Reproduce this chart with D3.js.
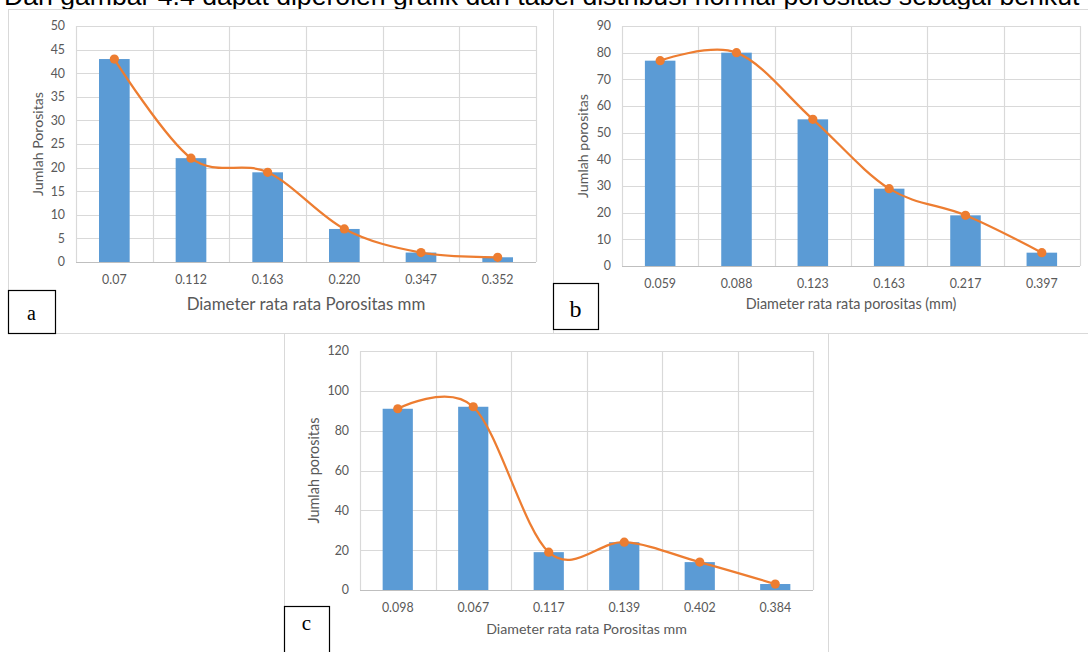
<!DOCTYPE html>
<html><head><meta charset="utf-8">
<script src="https://cdn.jsdelivr.net/npm/d3@7"></script>
<style>html,body{margin:0;padding:0;background:#fff;overflow:hidden}</style>
</head><body>
<svg id="chart" width="1088" height="652"></svg>
<script>
// ---------- data ----------
const catsA = ["0.07", "0.112", "0.163", "0.220", "0.347", "0.352"];
const valsA = [43, 22, 19, 7, 2, 1];
const ticksA = [0, 5, 10, 15, 20, 25, 30, 35, 40, 45, 50];

const catsB = ["0.059", "0.088", "0.123", "0.163", "0.217", "0.397"];
const valsB = [77, 80, 55, 29, 19, 5];
const ticksB = [0, 10, 20, 30, 40, 50, 60, 70, 80, 90];

const catsC = ["0.098", "0.067", "0.117", "0.139", "0.402", "0.384"];
const valsC = [91, 92, 19, 24, 14, 3];
const ticksC = [0, 20, 40, 60, 80, 100, 120];

const xTitleA = "Diameter rata rata Porositas mm";
const yTitleA = "Jumlah Porositas";
const xTitleB = "Diameter rata rata porositas (mm)";
const yTitleB = "Jumlah porositas";
const xTitleC = "Diameter rata rata Porositas mm";
const yTitleC = "Jumlah porositas";
const headline = "Dari gambar 4.4 dapat diperoleh grafik dan tabel distribusi normal porositas sebagai berikut";

// ---------- layout / style ----------
const BAR = "#5B9BD5", LINE = "#ED7D31", GRID = "#D9D9D9", AXIS = "#BFBFBF", TXT = "#595959";
const FONT = "Lato, 'Open Sans', sans-serif";
const TICK_FS = 12.4;
const svg = d3.select("#chart");

function fit(sel, target) {
  const w = sel.node().getComputedTextLength();
  const fs = parseFloat(sel.attr("font-size"));
  sel.attr("font-size", fs * target / w);
}

// headline (cut at top of the picture, as in the source)
const hl = svg.append("text").attr("x", 4).attr("y", 5)
  .attr("font-family", "'Liberation Sans', Arial, sans-serif").attr("font-size", 20)
  .attr("fill", "#000").text(headline);
fit(hl, 1076);

function panel(cfg) {
  const g = svg.append("g");
  // frame
  g.append("rect").attr("x", cfg.frame[0] + 0.5).attr("y", cfg.frame[1] + 0.5)
    .attr("width", cfg.frame[2]).attr("height", cfg.frame[3])
    .attr("fill", "none").attr("stroke", GRID).attr("stroke-width", 1);

  const x = d3.scaleBand().domain(cfg.cats).range([cfg.left, cfg.right])
    .paddingInner(0.6).paddingOuter(0.3);
  const y = d3.scaleLinear().domain([0, cfg.ticks[cfg.ticks.length - 1]]).range([cfg.bottom, cfg.top]);
  const step = x.step();

  // horizontal gridlines
  g.append("g").selectAll("line").data(cfg.ticks.slice(1)).join("line")
    .attr("x1", cfg.left).attr("x2", cfg.right)
    .attr("y1", d => Math.round(y(d)) + 0.5).attr("y2", d => Math.round(y(d)) + 0.5)
    .attr("stroke", GRID).attr("stroke-width", 1.2);
  // vertical gridlines at category boundaries
  const bounds = d3.range(cfg.cats.length + 1).map(i => cfg.left + i * step);
  g.append("g").selectAll("line").data(bounds).join("line")
    .attr("x1", d => Math.round(d) + 0.5).attr("x2", d => Math.round(d) + 0.5)
    .attr("y1", cfg.top).attr("y2", cfg.bottom)
    .attr("stroke", GRID).attr("stroke-width", 1.2);

  // bars
  g.append("g").selectAll("rect").data(cfg.vals).join("rect")
    .attr("x", (d, i) => x(cfg.cats[i])).attr("width", x.bandwidth())
    .attr("y", d => y(d)).attr("height", d => y(0) - y(d))
    .attr("fill", BAR);

  // x axis line
  g.append("line").attr("x1", cfg.left).attr("x2", cfg.right)
    .attr("y1", Math.round(y(0)) + 0.5).attr("y2", Math.round(y(0)) + 0.5)
    .attr("stroke", AXIS).attr("stroke-width", 1.2);

  // smoothed line
  const pts = cfg.vals.map((d, i) => [x(cfg.cats[i]) + x.bandwidth() / 2, y(d)]);
  g.append("path").attr("d", d3.line().curve(d3.curveCatmullRom.alpha(0))(pts))
    .attr("fill", "none").attr("stroke", LINE).attr("stroke-width", 2.25);
  g.append("g").selectAll("circle").data(pts).join("circle")
    .attr("cx", d => d[0]).attr("cy", d => d[1]).attr("r", 4.6).attr("fill", LINE);

  // tick labels
  g.append("g").selectAll("text").data(cfg.ticks).join("text")
    .attr("x", cfg.left - 11).attr("y", d => y(d)).attr("dy", "0.35em")
    .attr("text-anchor", "end").attr("font-family", FONT).attr("font-size", TICK_FS)
    .attr("fill", TXT).text(d => d);
  g.append("g").selectAll("text").data(cfg.cats).join("text")
    .attr("x", d => x(d) + x.bandwidth() / 2).attr("y", cfg.bottom + 22)
    .attr("text-anchor", "middle").attr("font-family", FONT).attr("font-size", TICK_FS)
    .attr("fill", TXT).text(d => d);

  // axis titles
  const xt = g.append("text").attr("x", (cfg.left + cfg.right) / 2).attr("y", cfg.xTitleY)
    .attr("text-anchor", "middle").attr("font-family", FONT).attr("font-size", 13)
    .attr("fill", TXT).text(cfg.xTitle);
  fit(xt, cfg.xTitleW);
  const yt = g.append("text")
    .attr("transform", `translate(${cfg.yTitleX},${(cfg.top + cfg.bottom) / 2}) rotate(-90)`)
    .attr("text-anchor", "middle").attr("dy", "0.35em").attr("font-family", FONT).attr("font-size", 12)
    .attr("fill", TXT).text(cfg.yTitle);
  fit(yt, cfg.yTitleW);

  // letter box
  g.append("rect").attr("x", cfg.box[0] + 0.5).attr("y", cfg.box[1] + 0.5)
    .attr("width", cfg.box[2]).attr("height", cfg.box[3])
    .attr("fill", "#fff").attr("stroke", "#000").attr("stroke-width", 1.2);
  g.append("text").attr("x", cfg.box[0] + cfg.box[2] / 2).attr("y", cfg.letterY)
    .attr("text-anchor", "middle").attr("font-family", "'Liberation Serif', 'Times New Roman', serif")
    .attr("font-size", cfg.letterSize).attr("fill", "#000").text(cfg.letter);
}

panel({cats: catsA, vals: valsA, ticks: ticksA, left: 76, right: 536, top: 26, bottom: 262,
  frame: [8, 9, 545, 324], xTitle: xTitleA, xTitleY: 310, xTitleW: 239,
  yTitle: yTitleA, yTitleX: 38, yTitleW: 104,
  box: [8, 290, 47, 43], letter: "a", letterY: 320, letterSize: 20});

panel({cats: catsB, vals: valsB, ticks: ticksB, left: 622, right: 1080, top: 26, bottom: 266,
  frame: [553, 9, 560, 324], xTitle: xTitleB, xTitleY: 309, xTitleW: 211,
  yTitle: yTitleB, yTitleX: 583, yTitleW: 104,
  box: [553, 283, 45, 46], letter: "b", letterY: 317, letterSize: 24});

panel({cats: catsC, vals: valsC, ticks: ticksC, left: 360, right: 813, top: 351, bottom: 590,
  frame: [284, 333, 544, 340], xTitle: xTitleC, xTitleY: 634, xTitleW: 201,
  yTitle: yTitleC, yTitleX: 314, yTitleW: 106,
  box: [284, 606, 45, 60], letter: "c", letterY: 630, letterSize: 21});
</script>
</body></html>
